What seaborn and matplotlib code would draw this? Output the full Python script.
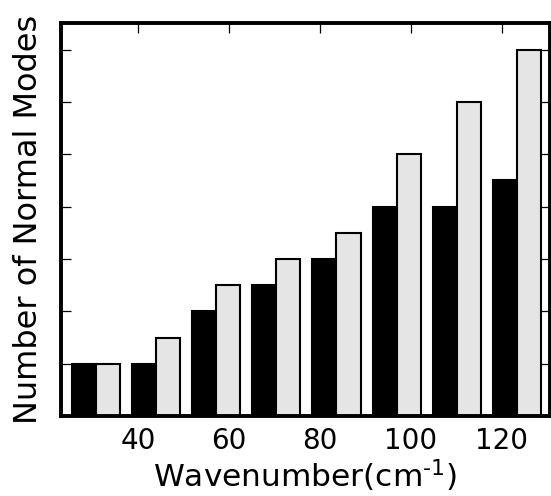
import matplotlib
matplotlib.use("Agg")
import matplotlib.pyplot as plt
import numpy as np
import pandas as pd
import seaborn as sns

# Histogram bins of the normal-mode wavenumbers (cm^-1)
bin_edges = np.linspace(24, 130, 9)
bin_centers = (bin_edges[:-1] + bin_edges[1:]) / 2
modes_a = [2, 2, 4, 5, 6, 8, 8, 9]
modes_b = [2, 3, 5, 6, 7, 10, 12, 14]
series = ["A", "B"]
bar_colors = ["#000000", "#e5e5e5"]
x_ticks = [40, 60, 80, 100, 120]
y_ticks = [0, 2, 4, 6, 8, 10, 12, 14]

df = pd.DataFrame({
    "wavenumber": np.concatenate([bin_centers, bin_centers]),
    "count": modes_a + modes_b,
    "set": [series[0]] * len(modes_a) + [series[1]] * len(modes_b),
})

sns.set_style("white")
plt.rcParams["font.family"] = ["DejaVu Sans"]
plt.rcParams["text.color"] = "black"
plt.rcParams["axes.labelcolor"] = "black"
plt.rcParams["xtick.color"] = "black"
plt.rcParams["ytick.color"] = "black"

fig = plt.figure(figsize=(5.51, 4.96), dpi=100)
ax = fig.add_axes([0.110, 0.161, 0.888, 0.792])

sns.barplot(
    data=df, x="wavenumber", y="count", hue="set",
    hue_order=series, palette=bar_colors, native_scale=True,
    width=0.8, dodge=True, edgecolor="black", linewidth=1.5,
    legend=False, ax=ax, errorbar=None,
)

ax.set_xlim(22.9, 130.6)
ax.set_ylim(0, 15)
ax.set_xticks(x_ticks)
ax.set_xticklabels([str(t) for t in x_ticks])
ax.set_yticks(y_ticks)
ax.set_yticklabels([])

for s in ax.spines.values():
    s.set_visible(True)
    s.set_linewidth(2.8)
    s.set_color("black")

ax.tick_params(axis="both", which="major", direction="in", length=7,
               width=0.9, color="black", top=True, right=True,
               bottom=True, left=True, labelsize=20, pad=7.5)

ax.set_xlabel("Wavenumber(cm$^{\\text{-1}}$)", fontsize=22.5)
ax.set_ylabel("Number of Normal Modes", fontsize=23)
ax.yaxis.set_label_coords(-0.033, 0.5)
ax.xaxis.set_label_coords(0.5, -0.106)

fig.savefig("out.png", dpi=100)
